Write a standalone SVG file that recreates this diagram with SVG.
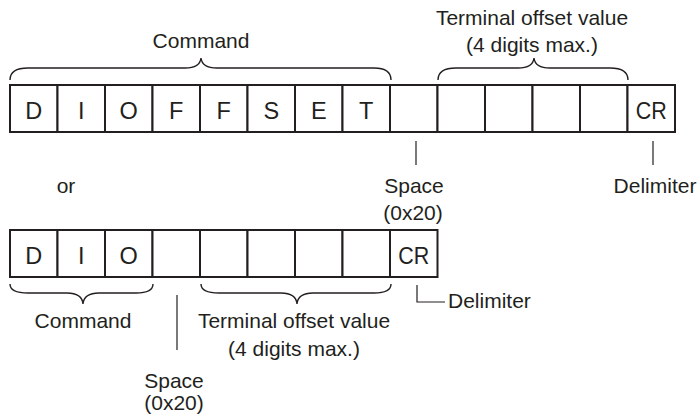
<svg xmlns="http://www.w3.org/2000/svg" width="697" height="419" viewBox="0 0 697 419">
<style>
.cell{fill:#fff;stroke:#231f20;stroke-width:2}
.c{font-family:"Liberation Sans",Arial,sans-serif;font-size:23.5px;fill:#231f20;text-anchor:middle}
.t{font-family:"Liberation Sans",Arial,sans-serif;font-size:21px;fill:#231f20;text-anchor:middle}
.s{font-family:"Liberation Sans",Arial,sans-serif;font-size:21px;fill:#231f20}
.br{fill:none;stroke:#231f20;stroke-width:1.4}
.ln{fill:none;stroke:#231f20;stroke-width:1.2}
</style>
<rect width="697" height="419" fill="#fff"/>
<g id="row1">
<g id="c1-1"><rect class="cell" x="10" y="85" width="47.5" height="47"/><text class="c" x="33.75" y="118.5">D</text></g>
<g id="c1-2"><rect class="cell" x="57.5" y="85" width="47.5" height="47"/><text class="c" x="81.25" y="118.5">I</text></g>
<g id="c1-3"><rect class="cell" x="105" y="85" width="47.5" height="47"/><text class="c" x="128.75" y="118.5">O</text></g>
<g id="c1-4"><rect class="cell" x="152.5" y="85" width="47.5" height="47"/><text class="c" x="176.25" y="118.5">F</text></g>
<g id="c1-5"><rect class="cell" x="200" y="85" width="47.5" height="47"/><text class="c" x="223.75" y="118.5">F</text></g>
<g id="c1-6"><rect class="cell" x="247.5" y="85" width="47.5" height="47"/><text class="c" x="271.25" y="118.5">S</text></g>
<g id="c1-7"><rect class="cell" x="295" y="85" width="47.5" height="47"/><text class="c" x="318.75" y="118.5">E</text></g>
<g id="c1-8"><rect class="cell" x="342.5" y="85" width="47.5" height="47"/><text class="c" x="366.25" y="118.5">T</text></g>
<g id="c1-9"><rect class="cell" x="390" y="85" width="47.5" height="47"/></g>
<g id="c1-10"><rect class="cell" x="437.5" y="85" width="47.5" height="47"/></g>
<g id="c1-11"><rect class="cell" x="485" y="85" width="47.5" height="47"/></g>
<g id="c1-12"><rect class="cell" x="532.5" y="85" width="47.5" height="47"/></g>
<g id="c1-13"><rect class="cell" x="580" y="85" width="47.5" height="47"/></g>
<g id="c1-14"><rect class="cell" x="627.5" y="85" width="47.5" height="47"/><text class="c" x="651.25" y="118.5" textLength="31" lengthAdjust="spacingAndGlyphs">CR</text></g>
</g>
<g id="row2">
<g id="c2-1"><rect class="cell" x="10" y="230" width="47.5" height="47"/><text class="c" x="33.75" y="263.5">D</text></g>
<g id="c2-2"><rect class="cell" x="57.5" y="230" width="47.5" height="47"/><text class="c" x="81.25" y="263.5">I</text></g>
<g id="c2-3"><rect class="cell" x="105" y="230" width="47.5" height="47"/><text class="c" x="128.75" y="263.5">O</text></g>
<g id="c2-4"><rect class="cell" x="152.5" y="230" width="47.5" height="47"/></g>
<g id="c2-5"><rect class="cell" x="200" y="230" width="47.5" height="47"/></g>
<g id="c2-6"><rect class="cell" x="247.5" y="230" width="47.5" height="47"/></g>
<g id="c2-7"><rect class="cell" x="295" y="230" width="47.5" height="47"/></g>
<g id="c2-8"><rect class="cell" x="342.5" y="230" width="47.5" height="47"/></g>
<g id="c2-9"><rect class="cell" x="390" y="230" width="47.5" height="47"/><text class="c" x="413.75" y="263.5" textLength="31" lengthAdjust="spacingAndGlyphs">CR</text></g>
</g>
<g id="connectors">
<path class="br" d="M10,80 Q10,68 28,68 L185,68 Q200,68 201,58 Q202,68 217,68 L374,68 Q391,68 391,80"/>
<path class="br" d="M438,80 Q438,68 456,68 L518,68 Q533,68 534,58 Q535,68 550,68 L610,68 Q628,68 628,80"/>
<path class="br" d="M10,284 Q10,293 28,293 L67,293 Q82,293 83,304 Q84,293 99,293 L136,293 Q153,293 153,284"/>
<path class="br" d="M201,284 Q201,293 219,293 L281,293 Q296,293 297,304 Q298,293 313,293 L374,293 Q391,293 391,284"/>
<path class="ln" d="M416,141 V165"/>
<path class="ln" d="M653,141 V165"/>
<path class="ln" d="M177,295 V350"/>
<path class="ln" d="M417,285 V302 H445"/>
</g>
<g id="labels">
<text class="t" x="201" y="48">Command</text>
<text class="t" x="532" y="25">Terminal offset value</text>
<text class="t" x="532" y="52">(4 digits max.)</text>
<text class="t" x="414" y="193">Space</text>
<text class="t" x="413" y="220">(0x20)</text>
<text class="t" x="655" y="193">Delimiter</text>
<text class="t" x="66" y="193">or</text>
<text class="t" x="83" y="328">Command</text>
<text class="t" x="294" y="328">Terminal offset value</text>
<text class="t" x="294" y="356">(4 digits max.)</text>
<text class="t" x="174" y="388">Space</text>
<text class="t" x="174" y="410">(0x20)</text>
<text class="s" x="448" y="308">Delimiter</text>
</g>
</svg>
